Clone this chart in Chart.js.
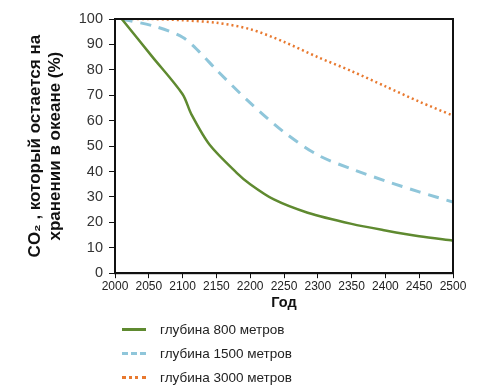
<!DOCTYPE html>
<html>
<head>
<meta charset="utf-8">
<script src="https://cdn.jsdelivr.net/npm/chart.js@4"></script>
<style>
  body { margin: 0; background: #fff; }
  #wrap { position: relative; width: 480px; height: 385px; }
  #legend { position: absolute; left: 122px; top: 317px; font-family: "Liberation Sans", Arial, sans-serif; font-size: 13.5px; color: #222; }
  .item { height: 24px; display: flex; align-items: center; }
  .swatch { width: 24px; margin-right: 14px; height: 0; }
</style>
</head>
<body>
<div id="wrap">
  <canvas id="chart" width="480" height="385"></canvas>
  <div id="legend"></div>
</div>
<script>
const years800 = [2010, 2055, 2100, 2113, 2140, 2180, 2200, 2235, 2285, 2350, 2400, 2450, 2500];
const values800 = [100, 85.2, 70.4, 62.5, 50.5, 39.5, 35, 29, 23.8, 19.4, 16.8, 14.5, 12.8];

const years1500 = [2010, 2060, 2100, 2125, 2150, 2200, 2250, 2300, 2350, 2400, 2450, 2500];
const values1500 = [100, 97, 92.8, 87, 80, 67, 55.5, 46.5, 41, 36.3, 32, 28];

const years3000 = [2010, 2050, 2100, 2150, 2200, 2250, 2300, 2350, 2400, 2450, 2500];
const values3000 = [100, 100, 99.5, 98.5, 96, 91, 85, 79.5, 73.5, 67.5, 62];

const seriesLabels = ["глубина 800 метров", "глубина 1500 метров", "глубина 3000 метров"];
const xTicks = [2000, 2050, 2100, 2150, 2200, 2250, 2300, 2350, 2400, 2450, 2500];

const colors = ["#5f8a30", "#8fc6da", "#e8792f"];

function toPoints(xs, ys) {
  return xs.map((x, i) => ({ x, y: ys[i] }));
}

// black box round the plot area
const frame = {
  id: "frame",
  afterDatasetsDraw(chart) {
    const { ctx, chartArea: a } = chart;
    ctx.save();
    ctx.strokeStyle = "#111";
    ctx.lineWidth = 2;
    ctx.strokeRect(a.left, a.top, a.right - a.left, a.bottom - a.top);
    ctx.restore();
  },
};

const tickFont = { family: "'Liberation Sans', Arial, sans-serif" };

new Chart(document.getElementById("chart"), {
  type: "line",
  data: {
    datasets: [
      {
        label: seriesLabels[0],
        data: toPoints(years800, values800),
        borderColor: colors[0],
        borderWidth: 2.5,
        pointRadius: 0,
        tension: 0.3,
      },
      {
        label: seriesLabels[1],
        data: toPoints(years1500, values1500),
        borderColor: colors[1],
        borderWidth: 3,
        borderDash: [11, 8],
        pointRadius: 0,
        tension: 0.3,
      },
      {
        label: seriesLabels[2],
        data: toPoints(years3000, values3000),
        borderColor: colors[2],
        borderWidth: 2.5,
        borderDash: [2, 3],
        pointRadius: 0,
        tension: 0.3,
      },
    ],
  },
  options: {
    responsive: false,
    animation: false,
    layout: { padding: { top: 19, right: 27, bottom: 73, left: 26 } },
    plugins: {
      legend: { display: false },
      tooltip: { enabled: false },
    },
    scales: {
      x: {
        type: "linear",
        min: 2000,
        max: 2500,
        afterBuildTicks(scale) {
          scale.ticks = xTicks.map((v) => ({ value: v }));
        },
        grid: { drawOnChartArea: false, drawTicks: true, tickLength: 5, color: "#111" },
        border: { color: "#111", width: 2 },
        ticks: {
          color: "#222",
          font: { ...tickFont, size: 12 },
          padding: 1,
          maxRotation: 0,
          autoSkip: false,
          callback: (v) => String(v),
        },
        title: {
          display: true,
          text: "Год",
          color: "#111",
          font: { ...tickFont, size: 14.5, weight: "bold" },
          padding: { top: 0, bottom: 0 },
        },
      },
      y: {
        min: 0,
        max: 100,
        afterFit(scale) {
          scale.width = 89;
        },
        grid: { drawOnChartArea: false, drawTicks: true, tickLength: 6, color: "#111" },
        border: { color: "#111", width: 2 },
        ticks: {
          stepSize: 10,
          color: "#333",
          font: { ...tickFont, size: 14.5 },
          padding: 6,
        },
        title: {
          display: true,
          text: ["CO₂ , который остается на", "хранении в океане (%)"],
          color: "#111",
          font: { ...tickFont, size: 17, weight: "bold", lineHeight: 1.15 },
          padding: { top: 0, bottom: 2 },
        },
      },
    },
  },
  plugins: [frame],
});

const dashStyles = ["solid", "dashed", "dotted"];
const legend = document.getElementById("legend");
seriesLabels.forEach((label, i) => {
  const item = document.createElement("div");
  item.className = "item";
  const sw = document.createElement("span");
  sw.className = "swatch";
  sw.style.borderTop = `3px ${dashStyles[i]} ${colors[i]}`;
  const text = document.createElement("span");
  text.textContent = label;
  item.append(sw, text);
  legend.append(item);
});
</script>
</body>
</html>
